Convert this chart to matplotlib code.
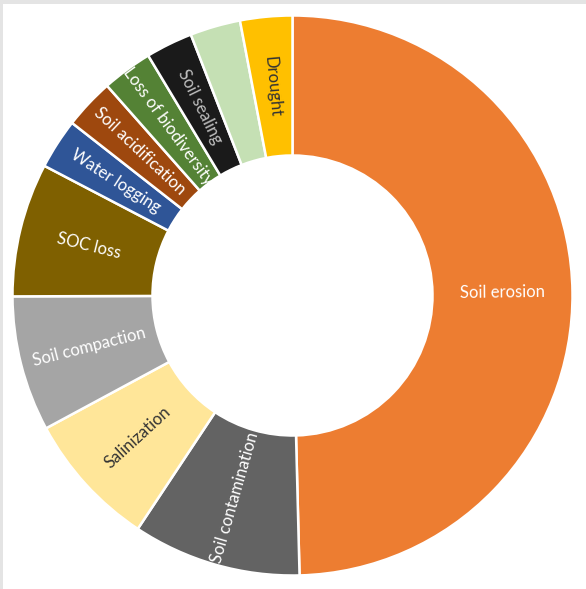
import numpy as np
import matplotlib.pyplot as plt
from matplotlib.patches import Rectangle

# Data (clockwise from 12 o'clock)
threats = ['Soil erosion', 'Soil contamination', 'Salinization', 'Soil compaction',
           'SOC loss', 'Water logging', 'Soil acidification', 'Loss of biodiversity',
           'Soil sealing', '', 'Drought']
shares = [49.5, 9.7, 7.8, 7.8, 7.7, 2.9, 2.9, 2.9, 2.7, 2.9, 3.0]
colors = ['#ED7D31', '#636363', '#FFE699', '#A5A5A5', '#7F6000', '#2F5597',
          '#9E480E', '#548235', '#1A1A1A', '#C5E0B4', '#FFC000']
text_colors = ['white', 'white', '#333333', 'white', 'white', 'white',
               'white', 'white', '#BFBFBF', '#333333', '#333333']

plt.rcParams['font.family'] = ['Lato', 'DejaVu Sans']

W, H = 586, 589
fig = plt.figure(figsize=(W / 100, H / 100), dpi=100)
fig.patch.set_facecolor('white')

# screenshot frame (light grey strips on top and left)
fig.patches.append(Rectangle((0, 1 - 4 / H), 1, 4 / H, transform=fig.transFigure,
                             facecolor='#E4E4E4', edgecolor='none'))
fig.patches.append(Rectangle((0, 0), 2.5 / W, 1, transform=fig.transFigure,
                             facecolor='#E4E4E4', edgecolor='none'))

cx, cy, r = 292.5, 295.5, 280
ax = fig.add_axes([(cx - r) / W, (H - cy - r) / H, 2 * r / W, 2 * r / H])

wedges, _ = ax.pie(shares, colors=colors, startangle=90, counterclock=False,
                   radius=1.0, wedgeprops=dict(width=0.5, edgecolor='white', linewidth=1.8))

for w, lab, tc in zip(wedges, threats, text_colors):
    if not lab:
        continue
    a = (w.theta1 + w.theta2) / 2
    x, y = 0.75 * np.cos(np.radians(a)), 0.75 * np.sin(np.radians(a))
    rot = a
    while rot > 90:
        rot -= 180
    while rot <= -90:
        rot += 180
    ax.text(x, y, lab, rotation=rot, rotation_mode='anchor', ha='center', va='center',
            color=tc, fontsize=12)

ax.set_xlim(-1, 1)
ax.set_ylim(-1, 1)
ax.axis('off')

fig.savefig('out.png', dpi=100)
